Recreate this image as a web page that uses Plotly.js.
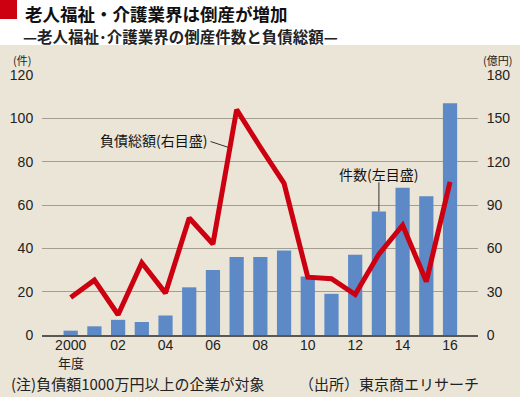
<!DOCTYPE html>
<html><head><meta charset="utf-8">
<script src="https://cdn.plot.ly/plotly-3.0.1.min.js"></script>
<style>html,body{margin:0;padding:0;background:#fff}#chart{width:520px;height:397px}</style>
</head><body><div id="chart"></div>
<script>
const years = [2000,2001,2002,2003,2004,2005,2006,2007,2008,2009,2010,2011,2012,2013,2014,2015,2016];
const counts = [2,4,7,6,9,22,30,36,36,39,27,19,37,57,68,64,107];
const debt = [26,38,14,50,29,81,63,156,130,105,40,39,28,56,76,37,106];
const tickVals = [2000,2002,2004,2006,2008,2010,2012,2014,2016];
const tickText = ["2000","02","04","06","08","10","12","14","16"];
const leftTicks = [0,20,40,60,80,100,120];
const rightTicks = [0,30,60,90,120,150,180];

const jp = '"Noto Sans CJK JP", "Noto Sans", sans-serif';
const num = '"Liberation Sans", Arial, sans-serif';
const W = 520, H = 397, ml = 42, mr = 42, mt = 75, mb = 62;
const pw = W - ml - mr, ph = H - mt - mb;
const px = x => (x - ml) / pw;
const py = y => (H - mb - y) / ph;

const data = [
  {type:'bar', x:years, y:counts, marker:{color:'#5d89c7'}, width:0.6, yaxis:'y', hoverinfo:'skip'},
  {type:'scatter', mode:'lines', x:years, y:debt, yaxis:'y2', line:{color:'#cc0010', width:5, shape:'linear'}, hoverinfo:'skip'}
];

const layout = {
  width:W, height:H, margin:{l:ml, r:mr, t:mt, b:mb},
  paper_bgcolor:'#ffffff', plot_bgcolor:'rgba(0,0,0,0)',
  showlegend:false, bargap:0.4,
  xaxis:{range:[1998.79,2017.18], tickvals:tickVals, ticktext:tickText, showgrid:false, zeroline:false,
    showline:true, linecolor:'#5a5650', linewidth:1.5, ticks:'', ticklabelstandoff:-3,
    tickfont:{family:num, size:14, color:'#222'}, fixedrange:true},
  yaxis:{range:[0,120], tickvals:leftTicks, showgrid:true, gridcolor:'#a39d92', gridwidth:1, zeroline:false,
    ticks:'outside', ticklen:5, tickcolor:'rgba(0,0,0,0)', tickfont:{family:num, size:14, color:'#222'}, fixedrange:true},
  yaxis2:{range:[0,180], tickvals:rightTicks, overlaying:'y', side:'right', showgrid:false, zeroline:false,
    ticks:'outside', ticklen:5, tickcolor:'rgba(0,0,0,0)', tickfont:{family:num, size:14, color:'#222'}, fixedrange:true},
  shapes:[
    {type:'rect', xref:'paper', yref:'paper', x0:px(0), x1:px(W), y0:py(H), y1:py(45), fillcolor:'#ebe5d7', line:{width:0}, layer:'below'},
    {type:'rect', xref:'paper', yref:'paper', x0:px(0), x1:px(17), y0:py(19), y1:py(0), fillcolor:'#cc0010', line:{width:0}},
    {type:'line', xref:'x', yref:'y', x0:2005.9, y0:89.3, x1:2006.65, y1:86.6, line:{color:'#333', width:1}},
    {type:'line', xref:'x', yref:'y', x0:2013, y0:57, x1:2013, y1:70.5, line:{color:'#333', width:1}}
  ],
  annotations:[
    {xref:'paper', yref:'paper', x:px(24), y:py(0), xanchor:'left', yanchor:'top', borderpad:0, showarrow:false,
      text:'<b>老人福祉・介護業界は倒産が増加</b>', font:{family:jp, size:17.5, color:'#111'}},
    {xref:'paper', yref:'paper', x:px(22), y:py(35.5), xanchor:'left', yanchor:'middle', borderpad:0, showarrow:false,
      text:'<b>—老人福祉･介護業界の倒産件数と負債総額—</b>', font:{family:jp, size:15.5, color:'#222'}},
    {xref:'paper', yref:'paper', x:px(22), y:py(59.5), xanchor:'center', yanchor:'middle', borderpad:0, showarrow:false,
      text:'(件)', font:{family:jp, size:11, color:'#222'}},
    {xref:'paper', yref:'paper', x:px(497), y:py(59.5), xanchor:'center', yanchor:'middle', borderpad:0, showarrow:false,
      text:'(億円)', font:{family:jp, size:11, color:'#222'}},
    {xref:'x', yref:'paper', x:2000, y:py(362), xanchor:'center', yanchor:'middle', showarrow:false,
      text:'年度', font:{family:jp, size:13, color:'#222'}},
    {xref:'x', yref:'y', x:2003.5, y:90, xanchor:'center', yanchor:'middle', showarrow:false,
      text:'負債総額(右目盛)', font:{family:jp, size:14, color:'#111'}},
    {xref:'x', yref:'y', x:2013, y:74.5, xanchor:'center', yanchor:'middle', showarrow:false,
      text:'件数(左目盛)', font:{family:jp, size:14, color:'#111'}},
    {xref:'paper', yref:'paper', x:px(9), y:py(383), xanchor:'left', yanchor:'middle', showarrow:false,
      text:'(注)負債額1000万円以上の企業が対象', font:{family:jp, size:15, color:'#222'}},
    {xref:'paper', yref:'paper', x:px(297), y:py(383), xanchor:'left', yanchor:'middle', showarrow:false,
      text:'（出所）東京商エリサーチ', font:{family:jp, size:15, color:'#222'}}
  ]
};
Plotly.newPlot('chart', data, layout, {staticPlot:true, displayModeBar:false});
</script></body></html>
